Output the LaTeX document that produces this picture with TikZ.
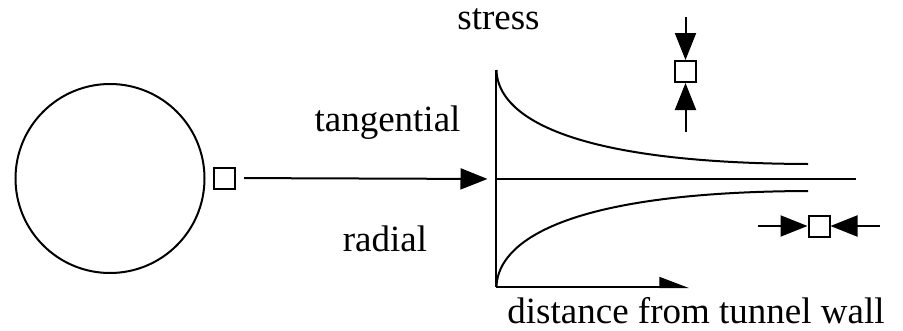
\documentclass[tikz,border=0pt]{standalone}
\usepackage{fontspec}
\setmainfont{Liberation Serif}
\usetikzlibrary{arrows.meta, positioning}

\begin{document}
\begin{tikzpicture}[
  x=1pt, y=-1pt,
  line width=2pt,
  lbl/.style={font=\fontsize{37}{44}\selectfont, anchor=base, inner sep=0pt},
  elem/.style={rectangle, draw, minimum size=21pt, inner sep=0pt},
  arrow/.style={-{Triangle[length=27pt, width=21pt]}},
  halfarrow/.style={-{Triangle[harpoon, length=27pt, width=20pt]}}
]
\useasboundingbox (0,0) rectangle (903,330);

% tunnel with an element at its wall
\node[circle, draw, minimum size=189pt, inner sep=0pt] (tunnel) at (110,178.5) {};
\node[elem] (wall) at (224.5,178) {};

% axes of the stress plot
\coordinate (O)    at (495.5,179);
\coordinate (top)  at (495.5,70);
\coordinate (bot)  at (495.5,287);
\coordinate (far)  at (856,179);
\coordinate (dend) at (689,287);

\draw[arrow, shorten <=8pt, shorten >=8pt] (wall) -- (O);
\draw (top) -- (bot);
\draw (O) -- (far);
\draw[halfarrow] (bot) -- (dend);

% stress curves
\draw (496.5,70) .. controls (497,105) and (540,163) .. (808,164);
\draw (496.5,287) .. controls (497,252) and (540,192) .. (808,191);

% element under tangential stress
\node[elem] (elemT) at (685.5,71.5) {};
\coordinate (tIn)  at (685.5,17);
\coordinate (tOut) at (685.5,132);
\draw[arrow] (tIn) -- (elemT);
\draw[arrow] (tOut) -- (elemT);

% element under radial stress
\node[elem] (elemR) at (819,226) {};
\coordinate (rIn)  at (758,226);
\coordinate (rOut) at (880,226);
\draw[arrow] (rIn) -- (elemR);
\draw[arrow] (rOut) -- (elemR);

% labels
\node[lbl] (stress) at (498.5,29)  {stress};
\node[lbl] (tang)   at (387.5,131.5) {tangential};
\node[lbl] (rad)    at (385,251.5) {radial};
\node[lbl] (dist)   at (696,323)   {distance from tunnel wall};

\end{tikzpicture}
\end{document}
